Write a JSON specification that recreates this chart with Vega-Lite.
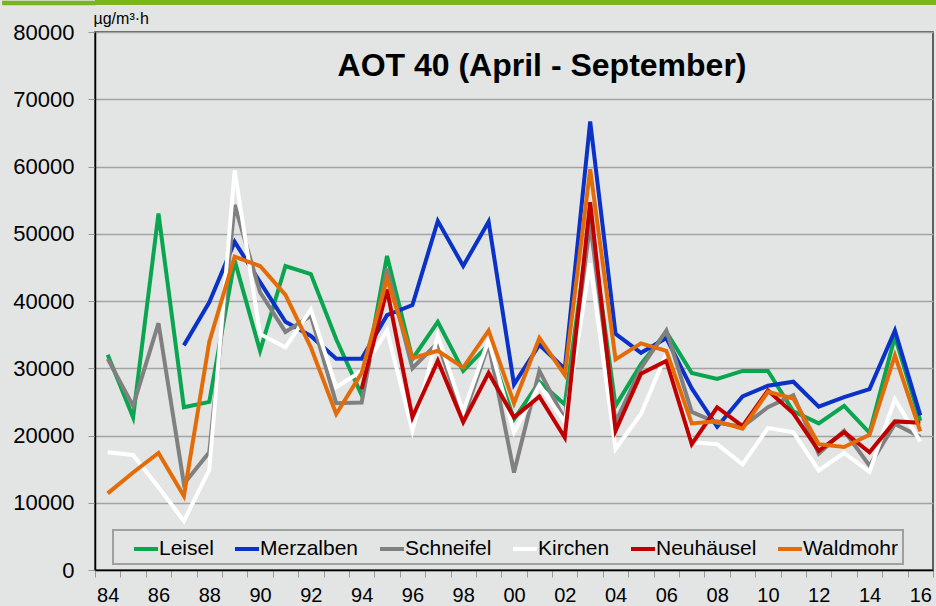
{
  "$schema": "https://vega.github.io/schema/vega-lite/v6.json",
  "background": "#e3e5e4",
  "padding": 0,
  "spacing": 4,
  "config": {"font": "Liberation Sans", "view": {"stroke": null}},
  "vconcat": [
    {
      "width": 842,
      "height": 5,
      "data": {"values": [{}]},
      "mark": {"type": "rect", "color": "#7ab51d"},
      "encoding": {
        "y": {
          "datum": 0,
          "type": "quantitative",
          "scale": {"domain": [0, 1]},
          "axis": {
            "title": null,
            "values": [0.125, 0.375, 0.625, 0.875],
            "labels": false,
            "domain": false,
            "grid": false,
            "ticks": true,
            "tickSize": 93.3,
            "tickWidth": 1.35,
            "tickColor": "#7ab51d",
            "tickCap": "butt",
            "minExtent": 0
          }
        },
        "y2": {"datum": 1}
      }
    },
    {
      "width": 838,
      "height": 538,
      "view": {"stroke": "#333333", "strokeWidth": 1.5},
      "title": {
        "text": "AOT 40 (April - September)",
        "fontSize": 32,
        "fontWeight": "bold",
        "color": "#000000",
        "anchor": "middle",
        "frame": "group",
        "offset": -98,
        "dx": 28,
        "baseline": "alphabetic"
      },
      "data": {
        "values": [
          {"s": "Leisel", "year": 1984, "v": 32000}, {"s": "Leisel", "year": 1985, "v": 22700}, {"s": "Leisel", "year": 1986, "v": 53000}, {"s": "Leisel", "year": 1987, "v": 24200}, {"s": "Leisel", "year": 1988, "v": 25000}, {"s": "Leisel", "year": 1989, "v": 46000}, {"s": "Leisel", "year": 1990, "v": 32600}, {"s": "Leisel", "year": 1991, "v": 45200}, {"s": "Leisel", "year": 1992, "v": 44000}, {"s": "Leisel", "year": 1993, "v": 34300}, {"s": "Leisel", "year": 1994, "v": 26000}, {"s": "Leisel", "year": 1995, "v": 46700}, {"s": "Leisel", "year": 1996, "v": 31400}, {"s": "Leisel", "year": 1997, "v": 36900}, {"s": "Leisel", "year": 1998, "v": 29600}, {"s": "Leisel", "year": 1999, "v": 33500}, {"s": "Leisel", "year": 2000, "v": 22400}, {"s": "Leisel", "year": 2001, "v": 28000}, {"s": "Leisel", "year": 2002, "v": 24600}, {"s": "Leisel", "year": 2003, "v": 52000}, {"s": "Leisel", "year": 2004, "v": 24400}, {"s": "Leisel", "year": 2005, "v": 30600}, {"s": "Leisel", "year": 2006, "v": 35400}, {"s": "Leisel", "year": 2007, "v": 29300}, {"s": "Leisel", "year": 2008, "v": 28400}, {"s": "Leisel", "year": 2009, "v": 29600}, {"s": "Leisel", "year": 2010, "v": 29600}, {"s": "Leisel", "year": 2011, "v": 23600}, {"s": "Leisel", "year": 2012, "v": 21800}, {"s": "Leisel", "year": 2013, "v": 24400}, {"s": "Leisel", "year": 2014, "v": 20400}, {"s": "Leisel", "year": 2015, "v": 34700}, {"s": "Leisel", "year": 2016, "v": 22200},
          {"s": "Merzalben", "year": 1987, "v": 33400}, {"s": "Merzalben", "year": 1988, "v": 39800}, {"s": "Merzalben", "year": 1989, "v": 48800}, {"s": "Merzalben", "year": 1990, "v": 42800}, {"s": "Merzalben", "year": 1991, "v": 36900}, {"s": "Merzalben", "year": 1992, "v": 34800}, {"s": "Merzalben", "year": 1993, "v": 31400}, {"s": "Merzalben", "year": 1994, "v": 31400}, {"s": "Merzalben", "year": 1995, "v": 37900}, {"s": "Merzalben", "year": 1996, "v": 39400}, {"s": "Merzalben", "year": 1997, "v": 51900}, {"s": "Merzalben", "year": 1998, "v": 45200}, {"s": "Merzalben", "year": 1999, "v": 51800}, {"s": "Merzalben", "year": 2000, "v": 27600}, {"s": "Merzalben", "year": 2001, "v": 33500}, {"s": "Merzalben", "year": 2002, "v": 29900}, {"s": "Merzalben", "year": 2003, "v": 66700}, {"s": "Merzalben", "year": 2004, "v": 35100}, {"s": "Merzalben", "year": 2005, "v": 32300}, {"s": "Merzalben", "year": 2006, "v": 34500}, {"s": "Merzalben", "year": 2007, "v": 27000}, {"s": "Merzalben", "year": 2008, "v": 21300}, {"s": "Merzalben", "year": 2009, "v": 25800}, {"s": "Merzalben", "year": 2010, "v": 27400}, {"s": "Merzalben", "year": 2011, "v": 28000}, {"s": "Merzalben", "year": 2012, "v": 24300}, {"s": "Merzalben", "year": 2013, "v": 25700}, {"s": "Merzalben", "year": 2014, "v": 26900}, {"s": "Merzalben", "year": 2015, "v": 35600}, {"s": "Merzalben", "year": 2016, "v": 23000},
          {"s": "Schneifel", "year": 1984, "v": 31400}, {"s": "Schneifel", "year": 1985, "v": 24400}, {"s": "Schneifel", "year": 1986, "v": 36700}, {"s": "Schneifel", "year": 1987, "v": 12800}, {"s": "Schneifel", "year": 1988, "v": 17500}, {"s": "Schneifel", "year": 1989, "v": 54300}, {"s": "Schneifel", "year": 1990, "v": 41300}, {"s": "Schneifel", "year": 1991, "v": 35400}, {"s": "Schneifel", "year": 1992, "v": 37800}, {"s": "Schneifel", "year": 1993, "v": 24800}, {"s": "Schneifel", "year": 1994, "v": 24900}, {"s": "Schneifel", "year": 1995, "v": 44800}, {"s": "Schneifel", "year": 1996, "v": 30000}, {"s": "Schneifel", "year": 1997, "v": 33800}, {"s": "Schneifel", "year": 1998, "v": 22500}, {"s": "Schneifel", "year": 1999, "v": 33600}, {"s": "Schneifel", "year": 2000, "v": 14500}, {"s": "Schneifel", "year": 2001, "v": 29600}, {"s": "Schneifel", "year": 2002, "v": 22400}, {"s": "Schneifel", "year": 2003, "v": 51500}, {"s": "Schneifel", "year": 2004, "v": 22000}, {"s": "Schneifel", "year": 2005, "v": 30000}, {"s": "Schneifel", "year": 2006, "v": 35600}, {"s": "Schneifel", "year": 2007, "v": 23500}, {"s": "Schneifel", "year": 2008, "v": 21900}, {"s": "Schneifel", "year": 2009, "v": 21300}, {"s": "Schneifel", "year": 2010, "v": 24200}, {"s": "Schneifel", "year": 2011, "v": 26000}, {"s": "Schneifel", "year": 2012, "v": 17300}, {"s": "Schneifel", "year": 2013, "v": 20700}, {"s": "Schneifel", "year": 2014, "v": 15500}, {"s": "Schneifel", "year": 2015, "v": 21700}, {"s": "Schneifel", "year": 2016, "v": 19800},
          {"s": "Kirchen", "year": 1984, "v": 17500}, {"s": "Kirchen", "year": 1985, "v": 17100}, {"s": "Kirchen", "year": 1986, "v": 12300}, {"s": "Kirchen", "year": 1987, "v": 7300}, {"s": "Kirchen", "year": 1988, "v": 14900}, {"s": "Kirchen", "year": 1989, "v": 59400}, {"s": "Kirchen", "year": 1990, "v": 35100}, {"s": "Kirchen", "year": 1991, "v": 33100}, {"s": "Kirchen", "year": 1992, "v": 38700}, {"s": "Kirchen", "year": 1993, "v": 27200}, {"s": "Kirchen", "year": 1994, "v": 29600}, {"s": "Kirchen", "year": 1995, "v": 35600}, {"s": "Kirchen", "year": 1996, "v": 20700}, {"s": "Kirchen", "year": 1997, "v": 34800}, {"s": "Kirchen", "year": 1998, "v": 23500}, {"s": "Kirchen", "year": 1999, "v": 34200}, {"s": "Kirchen", "year": 2000, "v": 20500}, {"s": "Kirchen", "year": 2001, "v": 27500}, {"s": "Kirchen", "year": 2002, "v": 22000}, {"s": "Kirchen", "year": 2003, "v": 45600}, {"s": "Kirchen", "year": 2004, "v": 18000}, {"s": "Kirchen", "year": 2005, "v": 23200}, {"s": "Kirchen", "year": 2006, "v": 32200}, {"s": "Kirchen", "year": 2007, "v": 19000}, {"s": "Kirchen", "year": 2008, "v": 18700}, {"s": "Kirchen", "year": 2009, "v": 15700}, {"s": "Kirchen", "year": 2010, "v": 21100}, {"s": "Kirchen", "year": 2011, "v": 20500}, {"s": "Kirchen", "year": 2012, "v": 14800}, {"s": "Kirchen", "year": 2013, "v": 17400}, {"s": "Kirchen", "year": 2014, "v": 14600}, {"s": "Kirchen", "year": 2015, "v": 25400}, {"s": "Kirchen", "year": 2016, "v": 19100},
          {"s": "Neuhäusel", "year": 1994, "v": 26900}, {"s": "Neuhäusel", "year": 1995, "v": 41700}, {"s": "Neuhäusel", "year": 1996, "v": 22700}, {"s": "Neuhäusel", "year": 1997, "v": 31100}, {"s": "Neuhäusel", "year": 1998, "v": 22000}, {"s": "Neuhäusel", "year": 1999, "v": 29300}, {"s": "Neuhäusel", "year": 2000, "v": 22700}, {"s": "Neuhäusel", "year": 2001, "v": 25800}, {"s": "Neuhäusel", "year": 2002, "v": 19700}, {"s": "Neuhäusel", "year": 2003, "v": 54700}, {"s": "Neuhäusel", "year": 2004, "v": 20700}, {"s": "Neuhäusel", "year": 2005, "v": 29200}, {"s": "Neuhäusel", "year": 2006, "v": 31100}, {"s": "Neuhäusel", "year": 2007, "v": 18700}, {"s": "Neuhäusel", "year": 2008, "v": 24200}, {"s": "Neuhäusel", "year": 2009, "v": 21400}, {"s": "Neuhäusel", "year": 2010, "v": 26700}, {"s": "Neuhäusel", "year": 2011, "v": 23300}, {"s": "Neuhäusel", "year": 2012, "v": 17700}, {"s": "Neuhäusel", "year": 2013, "v": 20500}, {"s": "Neuhäusel", "year": 2014, "v": 17500}, {"s": "Neuhäusel", "year": 2015, "v": 22100}, {"s": "Neuhäusel", "year": 2016, "v": 21900},
          {"s": "Waldmohr", "year": 1984, "v": 11400}, {"s": "Waldmohr", "year": 1985, "v": 14500}, {"s": "Waldmohr", "year": 1986, "v": 17400}, {"s": "Waldmohr", "year": 1987, "v": 11000}, {"s": "Waldmohr", "year": 1988, "v": 33900}, {"s": "Waldmohr", "year": 1989, "v": 46600}, {"s": "Waldmohr", "year": 1990, "v": 45200}, {"s": "Waldmohr", "year": 1991, "v": 40900}, {"s": "Waldmohr", "year": 1992, "v": 33100}, {"s": "Waldmohr", "year": 1993, "v": 23200}, {"s": "Waldmohr", "year": 1994, "v": 29300}, {"s": "Waldmohr", "year": 1995, "v": 43300}, {"s": "Waldmohr", "year": 1996, "v": 31500}, {"s": "Waldmohr", "year": 1997, "v": 32600}, {"s": "Waldmohr", "year": 1998, "v": 30100}, {"s": "Waldmohr", "year": 1999, "v": 35600}, {"s": "Waldmohr", "year": 2000, "v": 24800}, {"s": "Waldmohr", "year": 2001, "v": 34500}, {"s": "Waldmohr", "year": 2002, "v": 29000}, {"s": "Waldmohr", "year": 2003, "v": 59600}, {"s": "Waldmohr", "year": 2004, "v": 31300}, {"s": "Waldmohr", "year": 2005, "v": 33700}, {"s": "Waldmohr", "year": 2006, "v": 32600}, {"s": "Waldmohr", "year": 2007, "v": 21800}, {"s": "Waldmohr", "year": 2008, "v": 22100}, {"s": "Waldmohr", "year": 2009, "v": 21000}, {"s": "Waldmohr", "year": 2010, "v": 26500}, {"s": "Waldmohr", "year": 2011, "v": 25500}, {"s": "Waldmohr", "year": 2012, "v": 18700}, {"s": "Waldmohr", "year": 2013, "v": 18300}, {"s": "Waldmohr", "year": 2014, "v": 20100}, {"s": "Waldmohr", "year": 2015, "v": 31900}, {"s": "Waldmohr", "year": 2016, "v": 20600}
        ]
      },
      "mark": {"type": "line", "strokeWidth": 4},
      "encoding": {
        "x": {
          "field": "year",
          "type": "ordinal",
          "scale": {"type": "band", "paddingInner": 0, "paddingOuter": 0},
          "axis": {
            "title": null,
            "labelExpr": "datum.value % 2 == 0 ? (datum.value % 100 < 10 ? '0' + (datum.value % 100) : '' + (datum.value % 100)) : ''",
            "labelOverlap": false,
            "tickBand": "extent",
            "grid": false,
            "labelAngle": 0,
            "labelFontSize": 20,
            "labelColor": "#000000",
            "labelPadding": 8,
            "labelBaseline": "top",
            "tickSize": 7,
            "tickColor": "#999999",
            "domainColor": "#000000",
            "domainWidth": 1.5
          }
        },
        "y": {
          "field": "v",
          "type": "quantitative",
          "scale": {"domain": [0, 80000]},
          "axis": {
            "title": "µg/m³·h",
            "titleAngle": 0,
            "titleAlign": "left",
            "titleBaseline": "alphabetic",
            "titleX": -2,
            "titleY": -9,
            "titleFontSize": 16,
            "titleFontWeight": "normal",
            "titleColor": "#000000",
            "values": [0, 10000, 20000, 30000, 40000, 50000, 60000, 70000, 80000],
            "format": "d",
            "labelFontSize": 22,
            "labelColor": "#000000",
            "labelPadding": 14,
            "tickSize": 7,
            "tickColor": "#999999",
            "gridColor": "#a3a3a3",
            "gridWidth": 1.3,
            "domainColor": "#000000",
            "domainWidth": 1.5,
            "minExtent": 94
          }
        },
        "color": {
          "field": "s",
          "type": "nominal",
          "scale": {
            "domain": ["Leisel", "Merzalben", "Schneifel", "Kirchen", "Neuhäusel", "Waldmohr"],
            "range": ["#0aa64f", "#0a32c8", "#808080", "#ffffff", "#c00000", "#e36c09"]
          },
          "legend": {
            "title": null,
            "orient": "none",
            "legendX": 18,
            "legendY": 530,
            "direction": "horizontal",
            "fillColor": "#e3e5e4",
            "strokeColor": "#a0a0a0",
            "padding": 5,
            "symbolOffset": 14,
            "symbolType": "stroke",
            "symbolStrokeWidth": 4,
            "symbolSize": 576,
            "labelFontSize": 21,
            "labelOffset": -1,
            "labelColor": "#000000",
            "columnPadding": 5,
            "encode": {"legend": {"update": {"strokeWidth": {"value": 2}}}}
          }
        }
      }
    }
  ]
}
